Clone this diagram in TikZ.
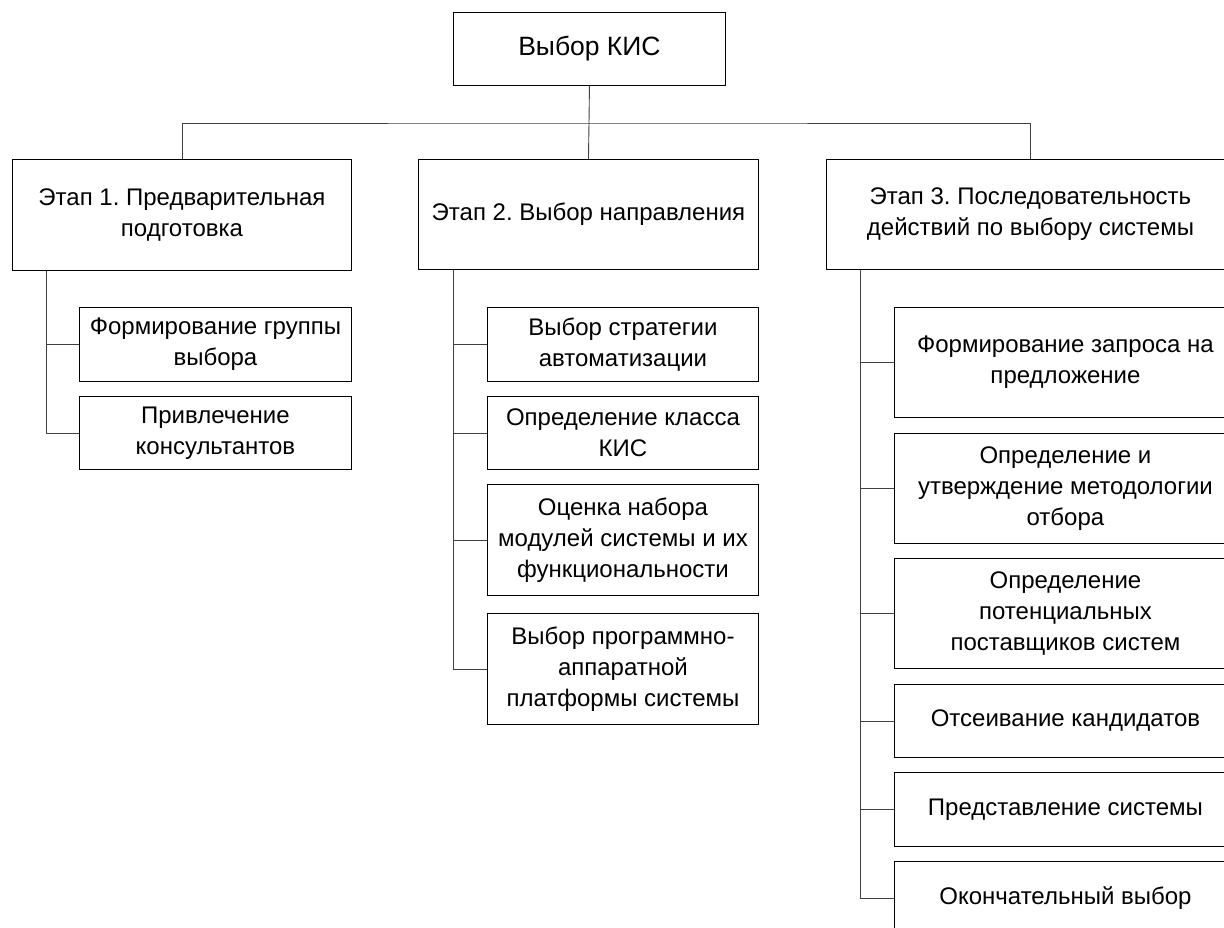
\documentclass[tikz,border=0pt]{standalone}
\usepackage{fontspec}
\setmainfont{Liberation Sans}
\frenchspacing
\tikzset{
  box/.style={draw, line width=0.9pt, align=center, inner sep=0pt,
    anchor=north west, font=\fontsize{24}{31}\selectfont},
  link/.style={draw=black!75, line width=0.9pt}
}
\begin{document}
\begin{tikzpicture}[x=1pt, y=-1pt]
   \useasboundingbox (0,0) rectangle (1224,928);
   \clip (0,0) rectangle (1224,928);
   % root and stages
   \node[box, minimum width=272pt, minimum height=73pt, font=\fontsize{26.5}{32}\selectfont] (root) at (453,12) {Выбор КИС};
   \node[box, minimum width=339pt, minimum height=111pt] (s1) at (12,159) {Этап 1. Предварительная\\подготовка};
   \node[box, minimum width=340pt, minimum height=110pt] (s2) at (418,159) {Этап 2. Выбор направления};
   \node[box, minimum width=408pt, minimum height=110pt] (s3) at (826,159) {Этап 3. Последовательность\\действий по выбору системы};
   \coordinate (fork) at (589,123);
   \draw[link] (root.south) -- (fork);
   \draw[link] (s1.north) |- (fork) -| (s3.north);
   \draw[link] (fork) -- (s2.north);
   % buses
   \coordinate (s1bus) at ([xshift=34pt]s1.south west);
   \coordinate (s2bus) at ([xshift=35pt]s2.south west);
   \coordinate (s3bus) at ([xshift=34pt]s3.south west);
   % stage 1
   \node[box, minimum width=272pt, minimum height=74pt] (s1a) at (79,307) {Формирование группы\\выбора};
   \node[box, minimum width=272pt, minimum height=73pt] (s1b) at (79,396) {Привлечение\\консультантов};
   \foreach \c in {s1a,s1b}
     \draw[link] (s1bus) |- (\c.west);
   % stage 2
   \node[box, minimum width=271pt, minimum height=74pt] (s2a) at (487,307) {Выбор стратегии\\автоматизации};
   \node[box, minimum width=271pt, minimum height=73pt] (s2b) at (487,396) {Определение класса\\КИС};
   \node[box, minimum width=271pt, minimum height=111pt] (s2c) at (487,484) {Оценка набора\\модулей системы и их\\функциональности};
   \node[box, minimum width=271pt, minimum height=111pt] (s2d) at (487,613) {Выбор программно-\\аппаратной\\платформы системы};
   \foreach \c in {s2a,s2b,s2c,s2d}
     \draw[link] (s2bus) |- (\c.west);
   % stage 3
   \node[box, minimum width=342pt, minimum height=110pt] (s3a) at (894,307) {Формирование запроса на\\предложение};
   \node[box, minimum width=342pt, minimum height=110pt] (s3b) at (894,433) {Определение и\\утверждение методологии\\отбора};
   \node[box, minimum width=342pt, minimum height=110pt] (s3c) at (894,558) {Определение\\потенциальных\\поставщиков систем};
   \node[box, minimum width=342pt, minimum height=73pt] (s3d) at (894,684) {Отсеивание кандидатов};
   \node[box, minimum width=342pt, minimum height=74pt] (s3e) at (894,772) {Представление системы};
   \node[box, minimum width=342pt, minimum height=73pt] (s3f) at (894,861) {Окончательный выбор};
   \foreach \c in {s3a,s3b,s3c,s3d,s3e,s3f}
     \draw[link] (s3bus) |- (\c.west);
\end{tikzpicture}
\end{document}
